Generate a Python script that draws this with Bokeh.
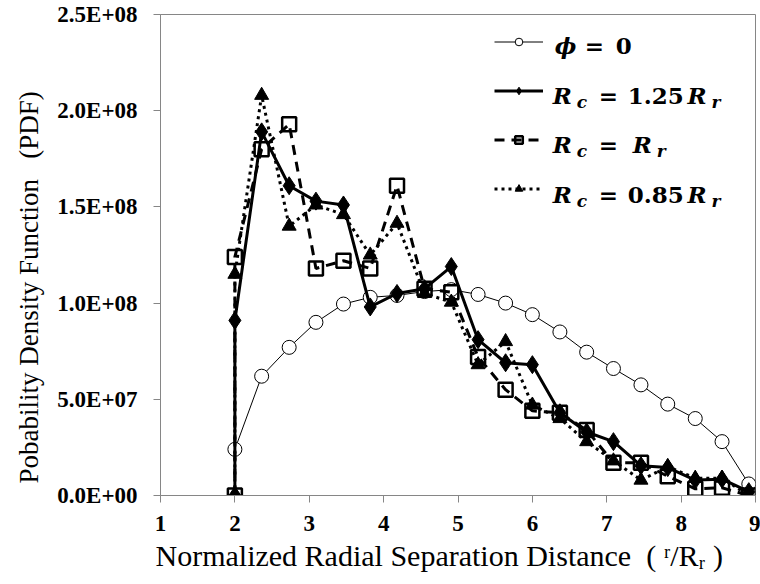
from bokeh.plotting import figure
from bokeh.models import Range1d, FixedTicker, Label, Legend, LegendItem, Title
from bokeh.embed import file_html
from bokeh.resources import INLINE

# ---------------- data ----------------
x_phi = [2.00, 2.36, 2.73, 3.09, 3.46, 3.82, 4.18, 4.55, 4.91, 5.27,
         5.64, 6.00, 6.37, 6.73, 7.09, 7.46, 7.82, 8.19, 8.55, 8.91]
y_phi = [2.4e7, 6.2e7, 7.7e7, 9.0e7, 9.95e7, 1.03e8, 1.04e8, 1.06e8, 1.07e8, 1.045e8,
         1.0e8, 9.4e7, 8.5e7, 7.45e7, 6.6e7, 5.75e7, 4.75e7, 4.0e7, 2.8e7, 6.0e6]

x_rc = [2.00, 2.00, 2.36, 2.73, 3.09, 3.46, 3.82, 4.18, 4.55, 4.91, 5.27,
        5.64, 6.00, 6.37, 6.73, 7.09, 7.46, 7.82, 8.19, 8.55, 8.91]
y_rc125 = [0.0, 9.1e7, 1.89e8, 1.61e8, 1.53e8, 1.51e8, 9.8e7, 1.05e8, 1.075e8, 1.19e8, 8.1e7,
           6.9e7, 6.8e7, 4.3e7, 3.3e7, 2.8e7, 1.55e7, 1.45e7, 8.0e6, 8.5e6, 2.0e6]
y_rcr = [0.0, 1.24e8, 1.80e8, 1.93e8, 1.18e8, 1.22e8, 1.18e8, 1.61e8, 1.075e8, 1.057e8, 7.2e7,
         5.5e7, 4.4e7, 4.3e7, 3.4e7, 1.7e7, 1.7e7, 1.0e7, 3.5e6, 4.0e6, 0.0]
y_rc085 = [0.0, 1.15e8, 2.08e8, 1.40e8, 1.51e8, 1.46e8, 1.25e8, 1.415e8, 1.05e8, 1.005e8, 6.8e7,
           8.0e7, 4.7e7, 4.0e7, 2.8e7, 1.8e7, 8.0e6, 1.5e7, 9.0e6, 9.0e6, 0.0]

x_ticks = [1, 2, 3, 4, 5, 6, 7, 8, 9]
y_ticks = [0, 5e7, 1e8, 1.5e8, 2e8, 2.5e8]
y_tick_labels = ["0.0E+00", "5.0E+07", "1.0E+08", "1.5E+08", "2.0E+08", "2.5E+08"]

NB = "\u00a0"
x_title = "Normalized Radial Separation Distance" + NB * 2 + "(" + NB + "ʳ/Rᵣ" + NB + ")"
y_title = "Pobability Density Function" + NB * 3 + "(PDF)"

# ---------------- layout (pixels) ----------------
W, H = 760, 584
F_L, F_R, F_T, F_B = 159, 755, 14, 495
X0, X1, Y0, Y1 = 1, 9, 0, 2.5e8


def dx(px):
    return X0 + (px - F_L) * (X1 - X0) / (F_R - F_L)


def dy(py):
    return Y0 + (F_B - py) * (Y1 - Y0) / (F_B - F_T)


GRAY = "#868686"
SERIF = "Liberation Serif"
MATH = "DejaVu Serif"

p = figure(width=W, height=H, x_range=Range1d(X0, X1), y_range=Range1d(Y0, Y1),
           output_backend="svg", toolbar_location=None,
           min_border_left=F_L, min_border_right=W - F_R,
           min_border_top=F_T, min_border_bottom=H - F_B)
p.xgrid.visible = False
p.ygrid.visible = False
p.outline_line_color = GRAY
p.background_fill_color = "white"
p.border_fill_color = "white"

p.xaxis.ticker = FixedTicker(ticks=x_ticks)
p.yaxis.ticker = FixedTicker(ticks=y_ticks)
p.yaxis.major_label_overrides = {t: l for t, l in zip(y_ticks, y_tick_labels)}
for ax in (p.xaxis[0], p.yaxis[0]):
    ax.axis_line_color = GRAY
    ax.major_tick_line_color = GRAY
    ax.major_tick_out = 7
    ax.major_tick_in = 0
    ax.minor_tick_line_color = None
    ax.major_label_text_font = SERIF
    ax.major_label_text_font_style = "bold"
    ax.major_label_text_font_size = "23px"
    ax.major_label_text_color = "black"
p.yaxis.major_label_standoff = 16
p.xaxis.major_label_standoff = 13

# axis titles (aligned like the reference)
p.add_layout(Title(text=x_title, align="left", offset=-5, standoff=7,
                   text_font=SERIF, text_font_size="30px", text_font_style="normal",
                   text_color="black"), "below")
p.add_layout(Title(text=y_title, align="left", offset=12, standoff=22,
                   text_font=SERIF, text_font_size="27px", text_font_style="normal",
                   text_color="black"), "left")

# ---------------- series ----------------
l1 = p.line(x_phi, y_phi, line_color="black", line_width=1)
s1 = p.scatter(x_phi, y_phi, marker="circle", size=14, line_color="black", line_width=1,
               fill_color="white")

l2 = p.line(x_rc, y_rc125, line_color="black", line_width=3)
s2 = p.scatter(x_rc, y_rc125, marker="diamond", size=18, line_color="black", fill_color="black")

l3 = p.line(x_rc, y_rcr, line_color="black", line_width=3, line_dash="10 7")
s3 = p.scatter(x_rc, y_rcr, marker="square", size=14, line_color="black", line_width=2.5,
               fill_alpha=0)

l4 = p.line(x_rc, y_rc085, line_color="black", line_width=3, line_dash="3 4")
s4 = p.scatter(x_rc, y_rc085, marker="triangle", size=14, line_color="black", fill_color="black")

# legend symbols (texts are drawn separately below, with sub-scripts)
legend = Legend(items=[LegendItem(label="", renderers=[l1, s1]),
                       LegendItem(label="", renderers=[l2, s2]),
                       LegendItem(label="", renderers=[l3, s3]),
                       LegendItem(label="", renderers=[l4, s4])],
                location=(493 - F_L, F_B - 198), glyph_width=49, glyph_height=19,
                label_height=19, label_width=0, label_standoff=0, spacing=30,
                padding=0, margin=0, border_line_color=None, background_fill_alpha=0)
p.add_layout(legend)


def lab(px, py, text, font=MATH, size=23, style="bold"):
    p.add_layout(Label(x=dx(px), y=dy(py), text=text, text_font=font,
                       text_font_size=f"{size}px", text_font_style=style,
                       text_color="black", text_align="left",
                       text_baseline="alphabetic"))


rows = [45, 95, 144, 194]
lab(554, rows[0], "ϕ", style="bold italic")
lab(584, rows[0], "=")
lab(615, rows[0], "0")
for r, tail in zip(rows[1:], ["1.25", None, "0.85"]):
    lab(552, r, "R", style="bold italic")
    lab(576, r + 6, "c", size=17, style="bold italic")
    lab(598, r, "=")
    if tail is None:
        lab(632, r, "R", style="bold italic")
        lab(656, r + 6, "r", size=17, style="bold italic")
    else:
        lab(627, r, tail)
        lab(687, r, "R", style="bold italic")
        lab(711, r + 6, "r", size=17, style="bold italic")

open("out.html", "w").write(file_html(p, INLINE))
